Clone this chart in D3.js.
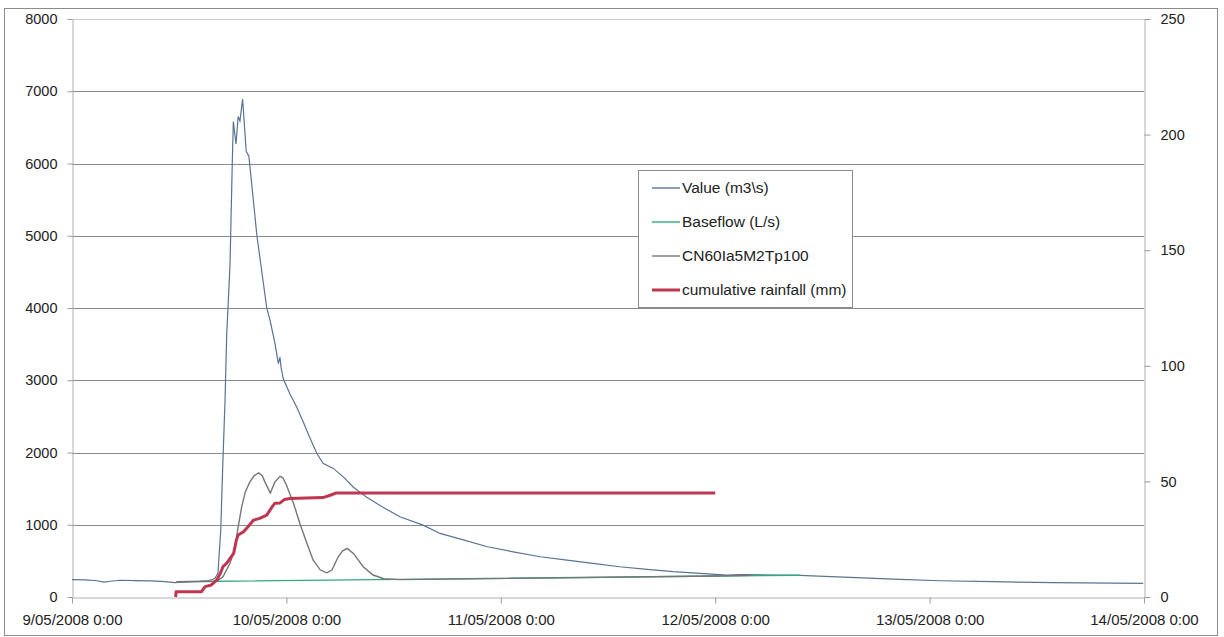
<!DOCTYPE html>
<html>
<head>
<meta charset="utf-8">
<script src="https://cdn.jsdelivr.net/npm/d3@7"></script>
<style>
  html, body { margin: 0; padding: 0; background: #fff; }
  svg { display: block; font-family: "Liberation Sans", Arial, sans-serif; }
</style>
</head>
<body>
<svg id="chart" width="1224" height="637"></svg>
<script>
// ---- data (hours after 9/05/2008 0:00, value) ----
const startDate = new Date(2008, 4, 9, 0, 0);
const endDate = new Date(2008, 4, 14, 0, 0);

const valueFlow = [
  [0,240],[1.5,238],[2.8,225],[3.6,205],[4.3,218],[5.4,232],[7,228],[8.7,222],[10,215],[11.5,200],
  [12.5,205],[14.3,218],[15.3,228],[15.8,245],[16.0,260],[16.34,330],[16.65,925],[16.87,1800],
  [17.13,2720],[17.32,3640],[17.5,4100],[17.69,4610],[17.94,6000],[18.06,6580],[18.36,6270],
  [18.6,6650],[18.8,6590],[19.1,6890],[19.5,6170],[19.8,6100],[20.7,5000],[21.8,4000],[22.17,3830],
  [22.72,3510],[23.1,3230],[23.28,3320],[23.4,3180],[23.65,3020],[24.4,2810],[25.15,2630],
  [25.9,2420],[26.6,2210],[27.4,1990],[28.1,1850],[29.25,1780],[30.4,1660],[31.5,1520],[33.0,1380],
  [34.85,1240],[36.7,1110],[39.3,995],[41.2,880],[43.8,790],[46.5,695],[49.4,625],[52.4,557],
  [55.4,511],[58.3,465],[61.3,419],[64.4,383],[67.3,350],[70.3,326],[73.3,304],[74.8,310],
  [78.9,304],[81.5,300],[87.1,272],[92.7,244],[97.2,225],[103.1,212],[109.8,198],[119.9,189]
];
const baseflow = [[11.7,212],[36.7,244],[81.5,302]];
const cn60 = [
  [11.7,212],[16.2,218],[16.9,280],[17.7,470],[18.25,695],[18.6,970],[19.0,1250],[19.4,1455],
  [19.9,1590],[20.4,1680],[20.9,1717],[21.3,1680],[21.6,1590],[22.2,1440],[22.7,1590],[23.3,1670],
  [23.6,1650],[24.0,1550],[24.8,1295],[25.5,1020],[26.3,740],[27.0,510],[27.8,373],[28.5,335],
  [29.1,373],[29.8,557],[30.3,640],[30.8,672],[31.5,603],[32.6,419],[33.7,304],[34.9,253],
  [36.7,240],[41.8,248],[56.9,268],[71.8,290],[76,300]
];
const rainfall = [
  [11.6,0],[11.65,2.3],[14.5,2.3],[14.9,4.5],[15.6,5.2],[16.2,7.3],[16.6,10.2],[16.9,13.1],
  [17.3,14.5],[17.7,16.7],[18.1,18.9],[18.4,24.6],[18.6,26.8],[19.2,28.2],[19.7,30.4],[20.3,33.2],
  [21.0,34.0],[21.8,35.4],[22.4,39.0],[22.7,40.5],[23.3,40.7],[23.8,42.2],[24.4,42.6],[28.1,43.0],
  [28.9,44.0],[29.6,45.0],[72,45.0]
];
const leftTicks = [0,1000,2000,3000,4000,5000,6000,7000,8000];
const rightTicks = [0,50,100,150,200,250];
const seriesNames = ["Value (m3\\s)", "Baseflow (L/s)", "CN60Ia5M2Tp100", "cumulative rainfall (mm)"];
const seriesColors = ["#5a7393", "#2fa882", "#7a7474", "#c0354f"];

// ---- layout ----
const svg = d3.select("#chart");
const L = 72, R = 1144, T = 19, B = 597;
const toDate = h => new Date(startDate.getTime() + h * 3600 * 1000);

const x = d3.scaleTime().domain([startDate, endDate]).range([L, R]);
const yL = d3.scaleLinear().domain([0, 8000]).range([B, T]);
const yR = d3.scaleLinear().domain([0, 250]).range([B, T]);

// outer frame
svg.append("rect").attr("x", 4.5).attr("y", 8.5).attr("width", 1213).attr("height", 627)
  .attr("fill", "#fff").attr("stroke", "#8c8c8c").attr("stroke-width", 1);

// gridlines
svg.append("g").selectAll("line").data(leftTicks.filter(d => d > 0)).join("line")
  .attr("x1", L).attr("x2", R)
  .attr("y1", d => Math.round(yL(d)) + 0.5).attr("y2", d => Math.round(yL(d)) + 0.5)
  .attr("stroke", d => d === 8000 ? "#c8c8c8" : "#8a8a8a").attr("stroke-width", 1);

// axes
const fmt = d3.timeFormat("%-d/%m/%Y %-H:%M");
const xAxis = d3.axisBottom(x).ticks(d3.timeDay.every(1)).tickFormat(fmt).tickSize(6).tickSizeOuter(0);
const gx = svg.append("g").attr("transform", `translate(0,${B + 0.5})`).call(xAxis);
gx.selectAll("text").attr("dy", "1.25em").attr("font-size", "15px").attr("fill", "#222");

const yAxisL = d3.axisLeft(yL).tickValues(leftTicks).tickFormat(d3.format("d"))
  .tickSize(5).tickSizeOuter(0).tickPadding(10);
const gyl = svg.append("g").attr("transform", `translate(${L + 0.5},0)`).call(yAxisL);
gyl.selectAll("text").attr("font-size", "14.5px").attr("fill", "#222");

const yAxisR = d3.axisRight(yR).tickValues(rightTicks).tickFormat(d3.format("d"))
  .tickSize(6).tickSizeOuter(0).tickPadding(10);
const gyr = svg.append("g").attr("transform", `translate(${R + 0.5},0)`).call(yAxisR);
gyr.selectAll("text").attr("font-size", "14.5px").attr("fill", "#222");

[gx, gyl, gyr].forEach(g => {
  g.select(".domain").attr("stroke", "#b0b0b0");
  g.selectAll(".tick line").attr("stroke", "#9a9a9a");
  g.attr("font-family", "\"Liberation Sans\", Arial, sans-serif");
});

// lines
const lineL = d3.line().x(d => x(toDate(d[0]))).y(d => yL(d[1]));
const lineR = d3.line().x(d => x(toDate(d[0]))).y(d => yR(d[1]));

svg.append("path").datum(valueFlow).attr("d", lineL)
  .attr("fill", "none").attr("stroke", seriesColors[0]).attr("stroke-width", 1.2);
svg.append("path").datum(baseflow).attr("d", lineL)
  .attr("fill", "none").attr("stroke", seriesColors[1]).attr("stroke-width", 1.4);
svg.append("path").datum(cn60).attr("d", lineL)
  .attr("fill", "none").attr("stroke", seriesColors[2]).attr("stroke-width", 1.4);
svg.append("path").datum(rainfall).attr("d", lineR)
  .attr("fill", "none").attr("stroke", seriesColors[3]).attr("stroke-width", 3).attr("stroke-linejoin", "round");

// legend
const lg = svg.append("g");
lg.append("rect").attr("x", 638.5).attr("y", 170.5).attr("width", 214).attr("height", 137)
  .attr("fill", "#fff").attr("stroke", "#8c8c8c");
const rowsY = [188, 222, 256, 290];
seriesNames.forEach((n, i) => {
  lg.append("line").attr("x1", 652).attr("x2", 680).attr("y1", rowsY[i]).attr("y2", rowsY[i])
    .attr("stroke", seriesColors[i]).attr("stroke-width", i === 3 ? 3 : 1.4);
  lg.append("text").attr("x", 682).attr("y", rowsY[i]).attr("dy", "0.35em")
    .attr("font-size", "15.5px").attr("fill", "#222").text(n);
});
</script>
</body>
</html>
